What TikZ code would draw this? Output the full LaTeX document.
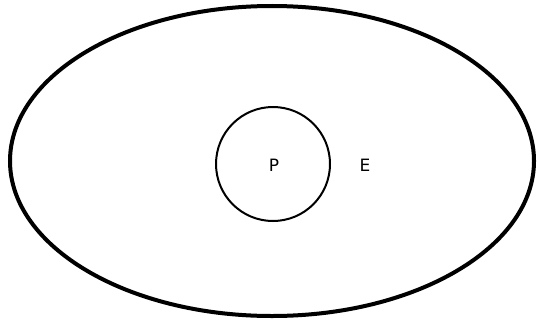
\documentclass[tikz,border=0pt]{standalone}
\usepackage{fontspec}
\setmainfont{DejaVu Sans}
\begin{document}
\begin{tikzpicture}[x=1pt,y=-1pt,
  outer/.style={draw=black, line width=4pt},
  inner/.style={draw=black, line width=2pt},
  lbl/.style={font=\fontsize{17}{19}\selectfont, inner sep=0pt}]
\useasboundingbox (0,0) rectangle (537,321);
\draw[outer] (272,161) ellipse [x radius=262, y radius=155];
\node[inner, circle, minimum size=114pt, inner sep=0pt] (pc) at (273,164) {};
\node[lbl] (P) at (274,165) {P};
\node[lbl] (E) at (365,165) {E};
\end{tikzpicture}
\end{document}
